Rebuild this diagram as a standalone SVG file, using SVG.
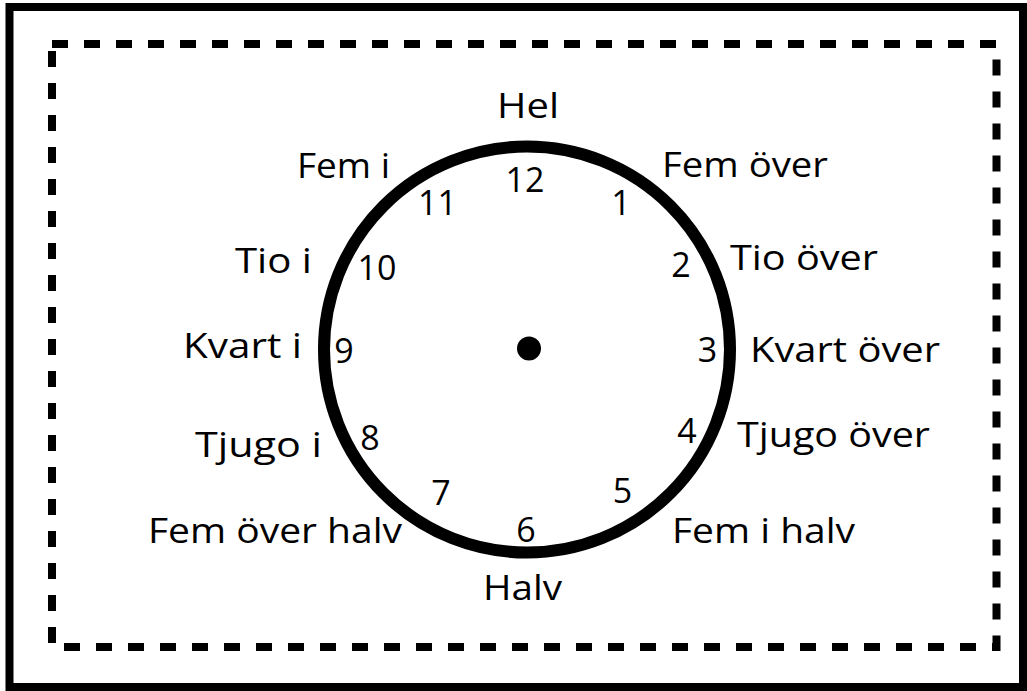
<svg xmlns="http://www.w3.org/2000/svg" width="1027" height="691" viewBox="0 0 1027 691">
<style>
.lbl{font-family:"Open Sans","DejaVu Sans",sans-serif;font-size:35px;fill:#000}
.num{font-family:"Open Sans","DejaVu Sans",sans-serif;font-size:34px;fill:#000;text-anchor:middle}
</style>
<rect width="1027" height="691" fill="#fff"/>
<g id="frame">
<rect x="9.5" y="7" width="1013.5" height="680" fill="none" stroke="#000" stroke-width="8"/>
<rect x="52" y="44" width="944.5" height="603" fill="none" stroke="#000" stroke-width="8" stroke-dasharray="16 16"/>
</g>
<g id="clock">
<circle cx="527" cy="349.5" r="203" fill="none" stroke="#000" stroke-width="12"/>
<circle cx="529" cy="348.5" r="12" fill="#000"/>
</g>
<g id="numbers">
<text class="num" x="525" y="192">12</text>
<text class="num" x="621" y="215">1</text>
<text class="num" x="681" y="277">2</text>
<text class="num" x="707.5" y="362">3</text>
<text class="num" x="687" y="443">4</text>
<text class="num" x="622.5" y="503">5</text>
<text class="num" x="526" y="542">6</text>
<text class="num" x="441" y="505">7</text>
<text class="num" x="370" y="450">8</text>
<text class="num" x="344" y="363">9</text>
<text class="num" x="377" y="280">10</text>
<text class="num" x="437.5" y="215">11</text>
</g>
<g id="labels">
<text class="lbl" x="497" y="118" textLength="62" lengthAdjust="spacingAndGlyphs">Hel</text>
<text class="lbl" x="297" y="178" textLength="93" lengthAdjust="spacingAndGlyphs">Fem i</text>
<text class="lbl" x="662" y="177" textLength="166" lengthAdjust="spacingAndGlyphs">Fem över</text>
<text class="lbl" x="235" y="273" textLength="77" lengthAdjust="spacingAndGlyphs">Tio i</text>
<text class="lbl" x="730" y="270" textLength="148" lengthAdjust="spacingAndGlyphs">Tio över</text>
<text class="lbl" x="183" y="358" textLength="119" lengthAdjust="spacingAndGlyphs">Kvart i</text>
<text class="lbl" x="750" y="362" textLength="190" lengthAdjust="spacingAndGlyphs">Kvart över</text>
<text class="lbl" x="195" y="457" textLength="127" lengthAdjust="spacingAndGlyphs">Tjugo i</text>
<text class="lbl" x="737" y="447" textLength="193" lengthAdjust="spacingAndGlyphs">Tjugo över</text>
<text class="lbl" x="148" y="543" textLength="254" lengthAdjust="spacingAndGlyphs">Fem över halv</text>
<text class="lbl" x="672" y="543" textLength="183" lengthAdjust="spacingAndGlyphs">Fem i halv</text>
<text class="lbl" x="483" y="600" textLength="79" lengthAdjust="spacingAndGlyphs">Halv</text>
</g>
</svg>
